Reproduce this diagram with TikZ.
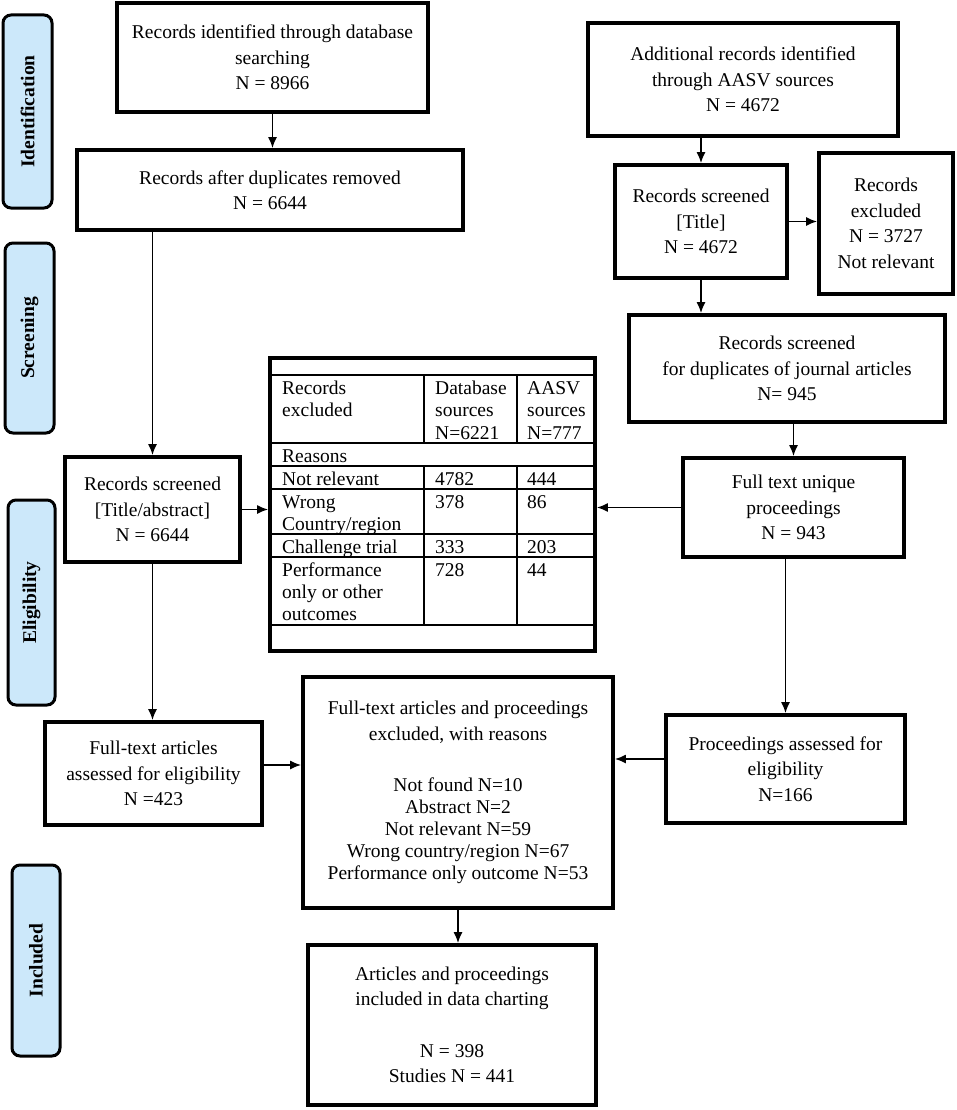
\documentclass[tikz,border=0pt]{standalone}
\usepackage{fontspec}
\setmainfont{Liberation Serif}
\usetikzlibrary{arrows.meta,calc}
\definecolor{lblue}{RGB}{204,232,250}
\newcommand\bx[6]{\node[box,minimum width={(#4-#2)*1pt},minimum height={(#5-#3)*1pt}] (#1) at ({(#2+#4)/2},{(#3+#5)/2}) {#6};}
\begin{document}
\begin{tikzpicture}[x=1pt,y=-1pt,font=\fontsize{19.5}{25.5}\selectfont,
  box/.style={draw,line width=3.8pt,align=center,inner sep=2pt,fill=white},
  lab/.style={draw,line width=3pt,fill=lblue,rounded corners=8pt,rotate=90,font=\fontsize{19.5}{24}\selectfont\bfseries,inner sep=0pt},
  arr/.style={line width=1.5pt,-{Latex[length=11pt,width=9pt]}},
  cell/.style={anchor=base west,inner sep=0pt},
  grid/.style={line width=1.4pt}]
\useasboundingbox (0,0) rectangle (957,1110);

% stage labels
\node[lab,minimum width=193pt,minimum height=49pt] (lid) at (27.5,111.5) {Identification};
\node[lab,minimum width=190pt,minimum height=49pt] (lsc) at (29.5,338) {Screening};
\node[lab,minimum width=205pt,minimum height=47pt] (lel) at (31.5,602.5) {Eligibility};
\node[lab,minimum width=191pt,minimum height=48pt] (lin) at (36,960.5) {Included};

% boxes
\bx{b1}{117}{3}{428}{112}{Records identified through database\\searching\\N = 8966}
\bx{b2}{77}{150}{463}{230}{Records after duplicates removed\\N = 6644}
\bx{b3}{588}{23}{898}{136}{Additional records identified\\through AASV sources\\N = 4672}
\bx{b4}{615}{165}{787}{278}{Records screened\\{[Title]}\\N = 4672}
\bx{b5}{819}{153}{953}{294}{Records\\excluded\\N = 3727\\Not relevant}
\bx{b6}{629}{315}{945}{422}{Records screened\\for duplicates of journal articles\\N= 945}
\bx{b7}{683}{458}{904}{557}{Full text unique\\proceedings\\N = 943}
\bx{tbl}{270}{358}{595}{651}{}
\bx{b9}{65}{457}{240}{562}{Records screened\\{[Title/abstract]}\\N = 6644}
\bx{b10}{45}{722}{262}{825}{Full-text articles\\assessed for eligibility\\N =423}
\bx{b11}{303}{677}{613}{908}{Full-text articles and proceedings\\excluded, with reasons\\[26pt]Not found N=10\\[-3.5pt]Abstract N=2\\[-3.5pt]Not relevant N=59\\[-3.5pt]Wrong country/region N=67\\[-3.5pt]Performance only outcome N=53}
\bx{b12}{666}{715}{905}{823}{Proceedings assessed for\\eligibility\\N=166}
\bx{b13}{308}{945}{596}{1105}{Articles and proceedings\\included in data charting\\[26pt]N = 398\\Studies N = 441}

% table grid
\foreach \yy in {375,443,466,489,534,557,625} \draw[grid] (270,\yy) -- (595,\yy);
\foreach \xx in {424,517} {\draw[grid] (\xx,375) -- (\xx,443); \draw[grid] (\xx,466) -- (\xx,625);}

% table cells
\node[cell] (c1) at (282,394) {Records};
\node[cell] (c2) at (282,416) {excluded};
\node[cell] (c3) at (435,394) {Database};
\node[cell] (c4) at (435,416) {sources};
\node[cell] (c5) at (435,439) {N=6221};
\node[cell] (c6) at (527,394) {AASV};
\node[cell] (c7) at (527,416) {sources};
\node[cell] (c8) at (527,439) {N=777};
\node[cell] (c9) at (282,462) {Reasons};
\node[cell] (c10) at (282,485) {Not relevant};
\node[cell] (c11) at (435,485) {4782};
\node[cell] (c12) at (527,485) {444};
\node[cell] (c13) at (282,508) {Wrong};
\node[cell] (c14) at (282,530) {Country/region};
\node[cell] (c15) at (435,508) {378};
\node[cell] (c16) at (527,508) {86};
\node[cell] (c17) at (282,553) {Challenge trial};
\node[cell] (c18) at (435,553) {333};
\node[cell] (c19) at (527,553) {203};
\node[cell] (c20) at (282,576) {Performance};
\node[cell] (c21) at (282,598) {only or other};
\node[cell] (c22) at (282,620) {outcomes};
\node[cell] (c23) at (435,576) {728};
\node[cell] (c24) at (527,576) {44};

% connectors
\draw[arr] (b1.south) -- (b1.south |- b2.north);
\draw[arr] (b3.south -| b4.north) -- (b4.north);
\draw[arr] (b4.east) -- (b4.east -| b5.west);
\draw[arr] (b4.south) -- (b4.south |- b6.north);
\draw[arr] (b6.south -| b7.north) -- (b7.north);
\draw[arr] (b7.west) -- (b7.west -| tbl.east);
\draw[arr] (b2.south -| b9.north) -- (b9.north);
\draw[arr] (b9.east) -- (b9.east -| tbl.west);
\draw[arr] (b9.south) -- (b9.south |- b10.north);
\draw[arr] ([yshift=8.5pt]b10.east) -- ([yshift=8.5pt]b10.east -| b11.west);
\draw[arr] (b7.south -| b12.north) -- (b12.north);
\draw[arr] ([yshift=10pt]b12.west) -- ([yshift=10pt]b12.west -| b11.east);
\draw[arr] (b11.south) -- (b11.south |- b13.north);
\end{tikzpicture}
\end{document}
